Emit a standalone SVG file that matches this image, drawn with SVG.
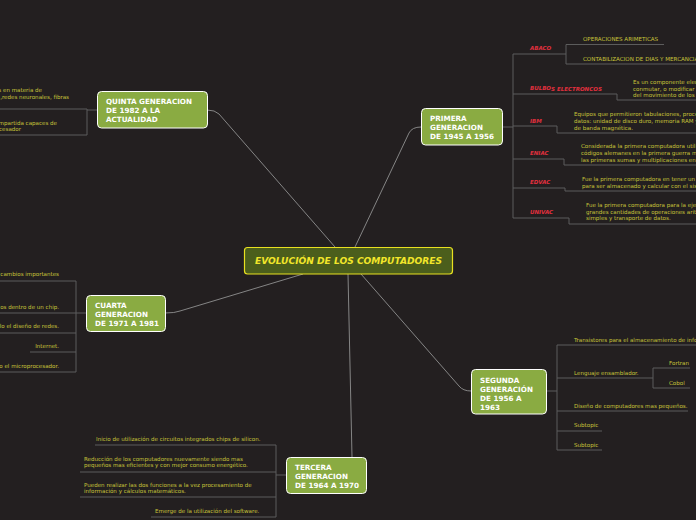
<svg xmlns="http://www.w3.org/2000/svg" width="696" height="520" viewBox="0 0 696 520">
<style>
.bg{fill:#231f20}
.node rect{fill:#8aab42;stroke:#ffffff;stroke-width:1}
.node text{font-family:"DejaVu Sans",sans-serif;font-weight:bold;font-size:7.2px;fill:#ffffff}
.main rect{fill:#4b5e1c;stroke:#e8e020;stroke-width:1.2}
.main text{font-family:"DejaVu Sans",sans-serif;font-weight:bold;font-style:italic;font-size:9.1px;fill:#f2e62a}
.conn path{fill:none;stroke:#858585;stroke-width:1}
.br{fill:none;stroke:#5c5c5c;stroke-width:1}
.t{font-family:"DejaVu Sans",sans-serif;font-size:5.55px;fill:#c8c43a}
.lbl{font-family:"DejaVu Sans",sans-serif;font-size:5.5px;font-weight:bold;font-style:italic;fill:#e0303e}
</style>
<rect class="bg" x="0" y="0" width="696" height="520"/>

<g id="connectors" class="conn">
<path d="M355,247 L409,133 Q412,127 421,127"/>
<path d="M335,247 L219,114 Q215,110 207,110"/>
<path d="M303,274 L180,311 Q175,313 165,313"/>
<path d="M361,274 L459,386 Q463,391 471,391"/>
<path d="M348,274 L352,457"/>
</g>

<g id="primera-branches">
<path class="br" d="M502,127 H513 M513,54 V218"/>
<path class="br" d="M513,54 H566 M566,44.5 V64 M566,44.5 H664 M566,64 H696"/>
<path class="br" d="M513,94 H617 V100 H696"/>
<path class="br" d="M513,126 H557 V133 H696"/>
<path class="br" d="M513,159 H564 V165 H696"/>
<path class="br" d="M513,188 H565 V191 H696"/>
<path class="br" d="M513,218 H569 V224 H696"/>
<text class="lbl" x="530" y="50">ABACO</text>
<text class="t" x="583" y="40.5">OPERACIONES ARIMETICAS</text>
<text class="t" x="583" y="60.5">CONTABILIZACION DE DIAS Y MERCANCIAS</text>
<text class="lbl" x="530" y="90">BULBO<tspan dy="1">S ELECTRONCOS</tspan></text>
<text class="t" x="633" y="84">Es un componente electrónico</text>
<text class="t" x="633" y="90.5">conmutar, o modificar una señal</text>
<text class="t" x="633" y="97">del movimiento de los electrones</text>
<text class="lbl" x="530" y="123">IBM</text>
<text class="t" x="574" y="116">Equipos que permitieron tabulaciones, procesamiento de</text>
<text class="t" x="574" y="123">datos: unidad de disco  duro, memoria RAM y cinta</text>
<text class="t" x="574" y="129.5">de banda magnética.</text>
<text class="lbl" x="530" y="155">ENIAC</text>
<text class="t" x="581" y="148">Considerada la primera computadora utilizada para</text>
<text class="t" x="581" y="155">códigos alemanes en la primera guerra mundial, realizó</text>
<text class="t" x="581" y="161.5">las primeras sumas y multiplicaciones en segundos</text>
<text class="lbl" x="530" y="184">EDVAC</text>
<text class="t" x="582" y="180.5">Fue la primera computadora en tener un programa</text>
<text class="t" x="582" y="187.5">para ser almacenado y calcular con el sistema binario</text>
<text class="lbl" x="530" y="214">UNIVAC</text>
<text class="t" x="586" y="207">Fue la primera computadora para la ejecución de</text>
<text class="t" x="586" y="213.5">grandes cantidades de operaciones aritméticas</text>
<text class="t" x="586" y="220">simples y transporte de datos.</text>
</g>

<g id="segunda-branches">
<path class="br" d="M546,391 H557 M557,345 V450"/>
<path class="br" d="M557,345 H696"/>
<path class="br" d="M557,378 H653 M653,368 V388 M653,368 H690 M653,388 H690"/>
<path class="br" d="M557,411 H688"/>
<path class="br" d="M557,431 H602"/>
<path class="br" d="M557,450 H602"/>
<text class="t" x="574" y="342">Transistores para el almacenamiento de información</text>
<text class="t" x="574" y="374.5">Lenguaje ensamblador.</text>
<text class="t" x="669" y="365">Fortran</text>
<text class="t" x="669" y="385">Cobol</text>
<text class="t" x="574" y="407.5">Diseño de computadores mas pequeños.</text>
<text class="t" x="574" y="427">Subtopic</text>
<text class="t" x="574" y="446.5">Subtopic</text>
</g>

<g id="tercera-branches">
<path class="br" d="M286,475 H276 M276,445 V517"/>
<path class="br" d="M95,445 H276"/>
<path class="br" d="M80,472 H276"/>
<path class="br" d="M80,497 H276"/>
<path class="br" d="M151,517 H276"/>
<text class="t" x="96" y="440.5">Inicio de utilización de circuitos integrados chips de silicon.</text>
<text class="t" x="84" y="460.5">Reducción de los computadores nuevamente siendo mas</text>
<text class="t" x="84" y="467">pequeños mas eficientes y con mejor consumo energético.</text>
<text class="t" x="84" y="486.5">Pueden realizar las dos funciones a la vez procesamiento de</text>
<text class="t" x="84" y="493">información y cálculos matemáticos.</text>
<text class="t" x="155" y="512.5">Emerge de la utilización del software.</text>
</g>

<g id="cuarta-branches">
<path class="br" d="M86,313 H76 M76,281 V372"/>
<path class="br" d="M0,281 H76"/>
<path class="br" d="M0,313 H76"/>
<path class="br" d="M0,333 H76"/>
<path class="br" d="M30,352 H76"/>
<path class="br" d="M0,372 H76"/>
<text class="t" x="59" y="275.5" text-anchor="end">cambios importantes</text>
<text class="t" x="59" y="308.5" text-anchor="end">os dentro de un chip.</text>
<text class="t" x="59" y="328" text-anchor="end">llo el diseño de redes.</text>
<text class="t" x="59" y="347.5" text-anchor="end">Internet.</text>
<text class="t" x="59" y="367.5" text-anchor="end">o el microprocesador.</text>
</g>

<g id="quinta-branches">
<path class="br" d="M97,110 H87 M87,109 V135"/>
<path class="br" d="M0,109 H87"/>
<path class="br" d="M0,135 H87"/>
<text class="t" x="42" y="91.5" text-anchor="end">s en materia de</text>
<text class="t" x="69" y="98.5" text-anchor="end">,redes neuronales, fibras</text>
<text class="t" x="57" y="124.5" text-anchor="end">mpartida capaces de</text>
<text class="t" x="21" y="130.5" text-anchor="end">cesador</text>
</g>

<g id="central" class="main">
<rect x="244.5" y="247.5" width="208" height="26.5" rx="3"/>
<text x="348.5" y="264.3" text-anchor="middle">EVOLUCIÓN DE LOS COMPUTADORES</text>
</g>

<g id="primera" class="node">
<rect x="421.5" y="108.5" width="81" height="36.5" rx="4"/>
<text x="430" y="121">PRIMERA</text>
<text x="430" y="130">GENERACION</text>
<text x="430" y="139">DE 1945 A 1956</text>
</g>

<g id="quinta" class="node">
<rect x="97.5" y="91.5" width="110" height="36.5" rx="4"/>
<text x="106" y="104">QUINTA GENERACION</text>
<text x="106" y="113">DE 1982 A LA</text>
<text x="106" y="122">ACTUALIDAD</text>
</g>

<g id="cuarta" class="node">
<rect x="86.5" y="295.5" width="79" height="36" rx="4"/>
<text x="95" y="307.5">CUARTA</text>
<text x="95" y="316.5">GENERACION</text>
<text x="95" y="325.5">DE 1971 A 1981</text>
</g>

<g id="segunda" class="node">
<rect x="471.5" y="369.5" width="75" height="44.5" rx="4"/>
<text x="480" y="382.5">SEGUNDA</text>
<text x="480" y="391.5">GENERACIÓN</text>
<text x="480" y="400.5">DE 1956 A</text>
<text x="480" y="409.5">1963</text>
</g>

<g id="tercera" class="node">
<rect x="286.5" y="457.5" width="80" height="36" rx="4"/>
<text x="295" y="469.5">TERCERA</text>
<text x="295" y="478.5">GENERACION</text>
<text x="295" y="487.5">DE 1964 A 1970</text>
</g>
</svg>
